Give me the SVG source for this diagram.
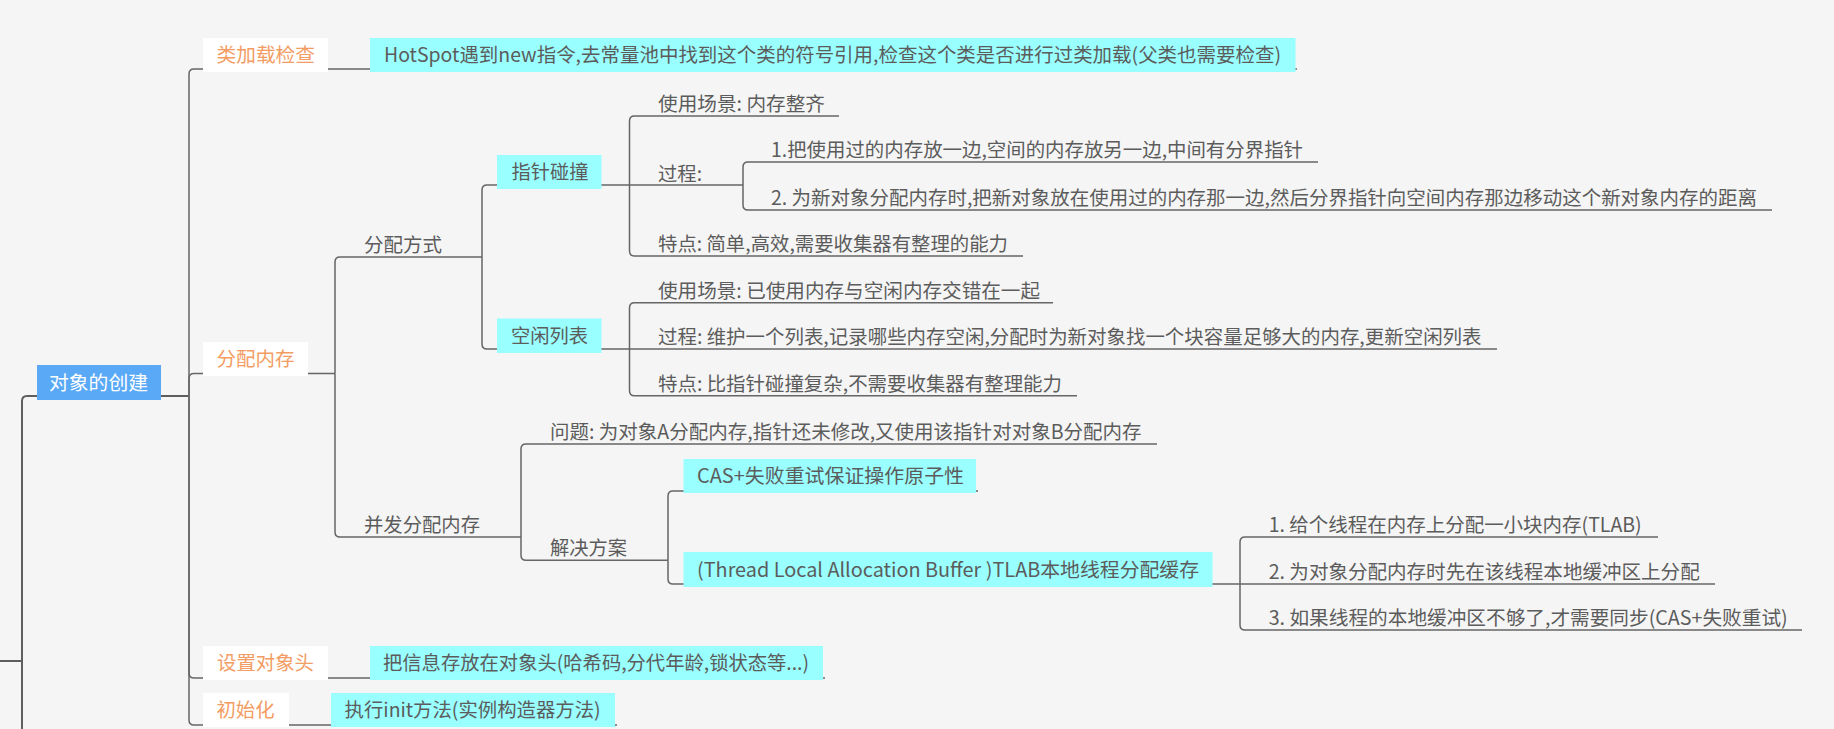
<svg xmlns="http://www.w3.org/2000/svg" width="1834" height="729" viewBox="0 0 1834 729">
<style>
.t{font-family:"Noto Sans CJK SC","Noto Sans",sans-serif;font-size:19.5px;fill:#5c5c5c}
.o{fill:#f39c63}
.w{fill:#ffffff}
.ln{fill:none;stroke:#666666;stroke-width:1.5}
.lr{fill:none;stroke:#5e5e5e;stroke-width:2}
.bw{fill:#ffffff}
.bc{fill:#99ffff}
.bb{fill:#5aa9f6}
</style>
<rect x="0" y="0" width="1834" height="729" fill="#f5f5f5"/>
<g id="connectors">
<path class="lr" d="M0 661 H22 V401 Q22 396 27 396 H37"/>
<path class="lr" d="M22 661 V729"/>
<path class="lr" d="M161 396 H189"/>
<path class="ln" d="M189 396 V74 Q189 69 194 69 H1297"/>
<path class="ln" d="M189 396 V378.5 Q189 373.5 194 373.5 H335"/>
<path class="ln" d="M189 396 V673 Q189 678 194 678 H825"/>
<path class="ln" d="M189 396 V720 Q189 725 194 725 H617"/>
<path class="ln" d="M335 373.5 V262 Q335 257 340 257 H482"/>
<path class="ln" d="M335 373.5 V532 Q335 537 340 537 H521"/>
<path class="ln" d="M482 257 V190 Q482 185 487 185 H629.5"/>
<path class="ln" d="M482 257 V344 Q482 349 487 349 H629.5"/>
<path class="ln" d="M629.5 185 V121 Q629.5 116 634.5 116 H839"/>
<path class="ln" d="M629.5 185 H743"/>
<path class="ln" d="M629.5 185 V251 Q629.5 256 634.5 256 H1023"/>
<path class="ln" d="M743 185 V167 Q743 162 748 162 H1318"/>
<path class="ln" d="M743 185 V205 Q743 210 748 210 H1772"/>
<path class="ln" d="M629.5 349 V307.7 Q629.5 302.7 634.5 302.7 H1053"/>
<path class="ln" d="M629.5 349 H1497"/>
<path class="ln" d="M629.5 349 V390.7 Q629.5 395.7 634.5 395.7 H1077"/>
<path class="ln" d="M521 537 V449 Q521 444 526 444 H1157"/>
<path class="ln" d="M521 537 V555.3 Q521 560.3 526 560.3 H668"/>
<path class="ln" d="M668 560.3 V496 Q668 491 673 491 H978"/>
<path class="ln" d="M668 560.3 V579 Q668 584 673 584 H1240"/>
<path class="ln" d="M1240 584 V542 Q1240 537 1245 537 H1658"/>
<path class="ln" d="M1240 584 H1715"/>
<path class="ln" d="M1240 584 V625 Q1240 630 1245 630 H1802"/>
</g>
<g id="root"><rect class="bb" x="37" y="365" width="124" height="35"/><text class="t w" x="49" y="389.5" textLength="99" lengthAdjust="spacingAndGlyphs">对象的创建</text></g>
<g id="n-classload"><rect class="bw" x="203" y="38" width="125" height="34"/><text class="t o" x="216.5" y="62.4" textLength="98.5" lengthAdjust="spacingAndGlyphs">类加载检查</text></g>
<g id="n-hotspot"><rect class="bc" x="370" y="38" width="925.5" height="34"/><text class="t" x="384" y="62.4" textLength="897" lengthAdjust="spacingAndGlyphs">HotSpot遇到new指令,去常量池中找到这个类的符号引用,检查这个类是否进行过类加载(父类也需要检查)</text></g>
<g id="n-alloc"><rect class="bw" x="203" y="342" width="105" height="34"/><text class="t o" x="216.5" y="366.4" textLength="78" lengthAdjust="spacingAndGlyphs">分配内存</text></g>
<g id="n-header"><rect class="bw" x="203" y="646" width="125" height="34"/><text class="t o" x="217" y="670.4" textLength="97" lengthAdjust="spacingAndGlyphs">设置对象头</text></g>
<g id="n-header-info"><rect class="bc" x="370" y="646" width="453" height="34"/><text class="t" x="383" y="670.4" textLength="426" lengthAdjust="spacingAndGlyphs">把信息存放在对象头(哈希码,分代年龄,锁状态等...)</text></g>
<g id="n-init"><rect class="bw" x="203" y="693" width="86" height="34"/><text class="t o" x="216.5" y="717.4" textLength="58" lengthAdjust="spacingAndGlyphs">初始化</text></g>
<g id="n-init-info"><rect class="bc" x="331" y="693" width="284" height="34"/><text class="t" x="344.6" y="717.4" textLength="256" lengthAdjust="spacingAndGlyphs">执行init方法(实例构造器方法)</text></g>
<g id="n-mode"><text class="t" x="364" y="252" textLength="78" lengthAdjust="spacingAndGlyphs">分配方式</text></g>
<g id="n-concurrent"><text class="t" x="364" y="532" textLength="116" lengthAdjust="spacingAndGlyphs">并发分配内存</text></g>
<g id="n-bump"><rect class="bc" x="497" y="155" width="104.5" height="34"/><text class="t" x="511.5" y="179.4" textLength="77" lengthAdjust="spacingAndGlyphs">指针碰撞</text></g>
<g id="n-freelist"><rect class="bc" x="497" y="318.5" width="104.5" height="34.5"/><text class="t" x="511" y="343" textLength="77" lengthAdjust="spacingAndGlyphs">空闲列表</text></g>
<g id="n-bump-scene"><text class="t" x="658" y="111" textLength="167" lengthAdjust="spacingAndGlyphs">使用场景: 内存整齐</text></g>
<g id="n-bump-proc"><text class="t" x="658" y="180.5" textLength="44" lengthAdjust="spacingAndGlyphs">过程:</text></g>
<g id="n-bump-feat"><text class="t" x="658" y="251" textLength="350" lengthAdjust="spacingAndGlyphs">特点: 简单,高效,需要收集器有整理的能力</text></g>
<g id="n-bump-step1"><text class="t" x="771" y="157" textLength="532" lengthAdjust="spacingAndGlyphs">1.把使用过的内存放一边,空间的内存放另一边,中间有分界指针</text></g>
<g id="n-bump-step2"><text class="t" x="771" y="205" textLength="986" lengthAdjust="spacingAndGlyphs">2. 为新对象分配内存时,把新对象放在使用过的内存那一边,然后分界指针向空间内存那边移动这个新对象内存的距离</text></g>
<g id="n-free-scene"><text class="t" x="658" y="297.7" textLength="382" lengthAdjust="spacingAndGlyphs">使用场景: 已使用内存与空闲内存交错在一起</text></g>
<g id="n-free-proc"><text class="t" x="658" y="344.3" textLength="823.5" lengthAdjust="spacingAndGlyphs">过程: 维护一个列表,记录哪些内存空闲,分配时为新对象找一个块容量足够大的内存,更新空闲列表</text></g>
<g id="n-free-feat"><text class="t" x="658" y="390.7" textLength="404" lengthAdjust="spacingAndGlyphs">特点: 比指针碰撞复杂,不需要收集器有整理能力</text></g>
<g id="n-problem"><text class="t" x="550" y="439" textLength="591.5" lengthAdjust="spacingAndGlyphs">问题: 为对象A分配内存,指针还未修改,又使用该指针对对象B分配内存</text></g>
<g id="n-solution"><text class="t" x="550" y="555.3" textLength="77" lengthAdjust="spacingAndGlyphs">解决方案</text></g>
<g id="n-cas"><rect class="bc" x="683.5" y="459" width="292.5" height="34"/><text class="t" x="697" y="483.4" textLength="267" lengthAdjust="spacingAndGlyphs">CAS+失败重试保证操作原子性</text></g>
<g id="n-tlab"><rect class="bc" x="683.5" y="552" width="529" height="35"/><text class="t" x="697" y="576.5" textLength="502" lengthAdjust="spacingAndGlyphs">(Thread Local Allocation Buffer )TLAB本地线程分配缓存</text></g>
<g id="n-tlab1"><text class="t" x="1268.7" y="532" textLength="373" lengthAdjust="spacingAndGlyphs">1. 给个线程在内存上分配一小块内存(TLAB)</text></g>
<g id="n-tlab2"><text class="t" x="1268.7" y="579" textLength="431" lengthAdjust="spacingAndGlyphs">2. 为对象分配内存时先在该线程本地缓冲区上分配</text></g>
<g id="n-tlab3"><text class="t" x="1268.7" y="625" textLength="519" lengthAdjust="spacingAndGlyphs">3. 如果线程的本地缓冲区不够了,才需要同步(CAS+失败重试)</text></g>
</svg>
